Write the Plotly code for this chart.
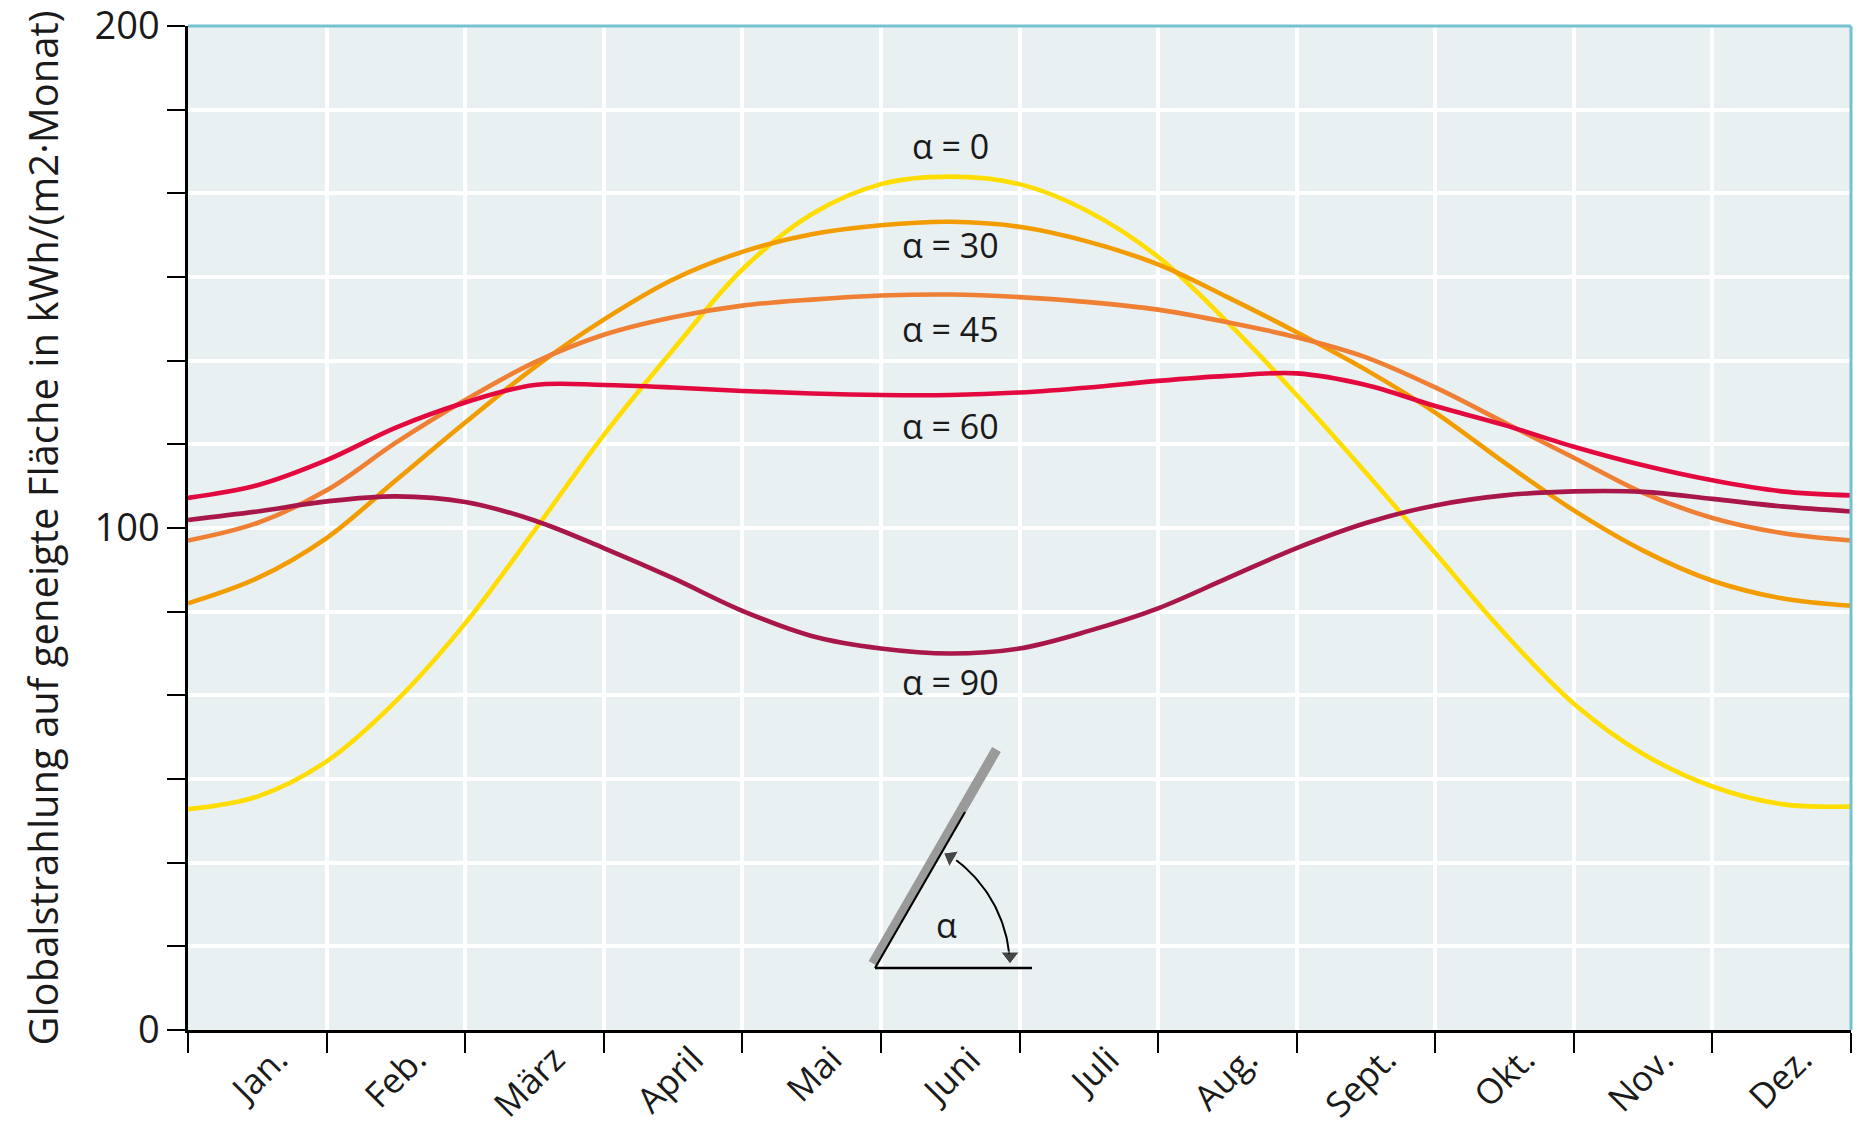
import numpy as np
import plotly.graph_objects as go

# ---------------- data ----------------
months = ["Jan.", "Feb.", "März", "April", "Mai", "Juni", "Juli", "Aug.", "Sept.", "Okt.", "Nov.", "Dez."]
month_centres = [0.5, 1.5, 2.5, 3.5, 4.5, 5.5, 6.5, 7.5, 8.5, 9.5, 10.5, 11.5]

# position in months (0 = start of January, 12 = end of December)
x_pos = [0, 0.5, 1, 1.5, 2, 2.5, 3, 3.5, 4, 4.5, 5, 5.5, 6,
         6.5, 7, 7.5, 8, 8.5, 9, 9.5, 10, 10.5, 11, 11.5, 12]

alpha_0 = [44, 46.5, 53.5, 65.5, 81, 99.5, 118.5, 135.5, 151.5, 162.5, 168.5, 170, 168.5,
           163, 154, 141, 126.5, 111, 95, 79, 65, 55, 48.5, 45, 44.5]
alpha_30 = [85, 90, 98, 109.5, 121, 132, 141.5, 149.5, 155, 158.5, 160.3, 161, 160,
            157, 152.5, 146, 139, 131.5, 123, 113, 103.5, 95.5, 89.5, 86, 84.5]
alpha_45 = [97.5, 101, 107.5, 117, 125.5, 133, 138.5, 142, 144.3, 145.5, 146.3, 146.5, 146,
            145, 143.5, 141, 138, 134, 128, 121, 114, 107, 102, 99, 97.5]
alpha_60 = [106, 108.5, 113.5, 120, 125, 128.5, 128.5, 128, 127.3, 126.8, 126.5, 126.5, 127,
            128, 129.3, 130.3, 130.8, 128.5, 124.3, 120.5, 116.2, 112.5, 109.5, 107.3, 106.5]
alpha_90 = [101.6, 103.3, 105.3, 106.3, 105.2, 101.5, 96, 90, 83.5, 78.5, 76, 75, 76,
            79.5, 84, 90, 96, 101, 104.5, 106.5, 107.3, 107.2, 105.8, 104.3, 103.3]

series_names = ["α = 0", "α = 30", "α = 45", "α = 60", "α = 90"]
series_values = [alpha_0, alpha_30, alpha_45, alpha_60, alpha_90]
series_colors = ["#FFDD00", "#F39C00", "#EE7F33", "#E3093F", "#A8164A"]
label_y = [176, 156.4, 139.6, 120.3, 69.3]
label_x = 5.5

y_labels = [0, 100, 200]
y_minor_step = 200 / 12

fig = go.Figure()

for name, vals, col in zip(series_names, series_values, series_colors):
    fig.add_trace(go.Scatter(
        x=x_pos, y=vals, name=name, mode="lines",
        line=dict(color=col, width=4.6, shape="spline", smoothing=1.0),
        hoverinfo="x+y+name",
    ))

for name, ly in zip(series_names, label_y):
    fig.add_annotation(x=label_x, y=ly, xref="x", yref="y", text=name,
                       showarrow=False, font=dict(size=34, color="#1a1a1a"))

# ---------------- inset sketch of the tilted surface ----------------
# inset axes use pixel-like units (1 unit = 1 px)
vertex = (25, 22)
bar_start = (23, 26.6)
bar_end = (146.5, 240.5)
edge_end = (115, 178)
ground_end = (182, 22)
arc_r = 135
theta = np.radians(np.linspace(6, 53, 40))
arc_x = vertex[0] + arc_r * np.cos(theta)
arc_y = vertex[1] + arc_r * np.sin(theta)

fig.add_trace(go.Scatter(x=[bar_start[0], bar_end[0]], y=[bar_start[1], bar_end[1]],
                         mode="lines", line=dict(color="#9a9a9a", width=10),
                         xaxis="x2", yaxis="y2", hoverinfo="skip", showlegend=False))
fig.add_trace(go.Scatter(x=[vertex[0], edge_end[0]], y=[vertex[1], edge_end[1]],
                         mode="lines", line=dict(color="black", width=2),
                         xaxis="x2", yaxis="y2", hoverinfo="skip", showlegend=False))
fig.add_trace(go.Scatter(x=[vertex[0], ground_end[0]], y=[vertex[1], ground_end[1]],
                         mode="lines", line=dict(color="black", width=2.5),
                         xaxis="x2", yaxis="y2", hoverinfo="skip", showlegend=False))
fig.add_trace(go.Scatter(x=arc_x, y=arc_y, mode="lines", line=dict(color="black", width=2),
                         xaxis="x2", yaxis="y2", hoverinfo="skip", showlegend=False))
fig.add_trace(go.Scatter(x=[100.5, 160], y=[133, 34], mode="markers",
                         marker=dict(symbol="triangle-up", size=[16, 16], color="black",
                                     angle=[-60, 180]),
                         xaxis="x2", yaxis="y2", hoverinfo="skip", showlegend=False))
fig.add_annotation(x=97, y=65, xref="x2", yref="y2", text="α", showarrow=False,
                   font=dict(size=34, color="#1a1a1a"))

# plot background (below gridlines) and teal top/right frame
fig.add_shape(type="rect", xref="paper", yref="paper", x0=0, x1=1, y0=0, y1=1,
              fillcolor="#E9F0F2", line=dict(width=0), layer="below")
fig.add_shape(type="line", xref="paper", yref="paper", x0=0, x1=1, y0=1, y1=1,
              line=dict(color="#74C2CF", width=3))
fig.add_shape(type="line", xref="paper", yref="paper", x0=1, x1=1, y0=0, y1=1,
              line=dict(color="#74C2CF", width=3))

fig.update_layout(
    width=1864, height=1131, autosize=False,
    margin=dict(l=188, r=13, t=26, b=101, autoexpand=False),
    paper_bgcolor="white", plot_bgcolor="rgba(0,0,0,0)",
    showlegend=False,
    font=dict(family="Open Sans", size=34, color="#1a1a1a"),
    xaxis=dict(
        range=[0, 12], tickmode="array", tickvals=month_centres, ticktext=months,
        tickangle=-45, ticks="", showgrid=False, zeroline=False,
        showline=True, linecolor="black", linewidth=2.5,
        tickfont=dict(size=35, color="#1a1a1a"), ticklabelshift=20,
        ticklabelstandoff=-8, ticklabeloverflow="allow",
        minor=dict(tick0=0, dtick=1, ticks="outside", ticklen=20, tickwidth=2,
                   tickcolor="black", showgrid=True, gridcolor="white", gridwidth=4),
        automargin=False, fixedrange=True,
    ),
    yaxis=dict(
        range=[0, 200], tickmode="array", tickvals=y_labels,
        ticks="outside", ticklen=18, tickwidth=2, tickcolor="black",
        showgrid=True, gridcolor="white", gridwidth=4, zeroline=False,
        showline=True, linecolor="black", linewidth=2.5,
        tickfont=dict(size=38, color="#1a1a1a"), ticklabeloverflow="allow",
        minor=dict(tick0=0, dtick=y_minor_step, ticks="outside", ticklen=18, tickwidth=2,
                   tickcolor="black", showgrid=True, gridcolor="white", gridwidth=4),
        title=dict(text="Globalstrahlung auf geneigte Fläche in kWh/(m2·Monat)",
                   font=dict(size=40, color="#1a1a1a"), standoff=24),
        automargin=False, fixedrange=True,
    ),
    xaxis2=dict(domain=[0.39807, 0.52435], range=[0, 210], visible=False,
                anchor="y2", fixedrange=True),
    yaxis2=dict(domain=[0.03984, 0.29880], range=[0, 260], visible=False,
                anchor="x2", fixedrange=True),
)

fig.write_html("out.html", config={"displayModeBar": False},
               post_script="document.body.style.margin='0';")
